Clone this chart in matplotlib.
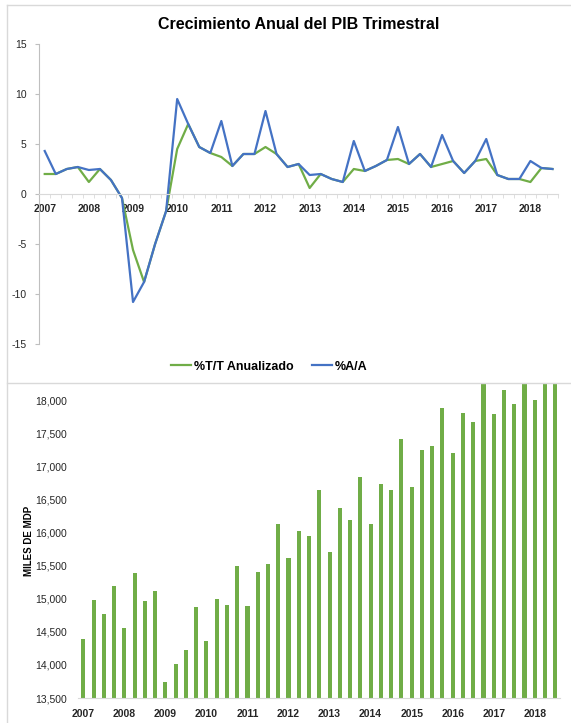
import matplotlib
matplotlib.use('Agg')
import matplotlib.pyplot as plt
from matplotlib.lines import Line2D
import numpy as np

plt.rcParams['font.family'] = ['Liberation Sans', 'DejaVu Sans']
plt.rcParams['axes.unicode_minus'] = False

# quarters 2007Q1 .. 2018Q3
years = ['2007', '2008', '2009', '2010', '2011', '2012',
         '2013', '2014', '2015', '2016', '2017', '2018']

# %A/A (blue) and %T/T anualizado (green)
aa = [4.3, 2.0, 2.5, 2.7, 2.4, 2.5, 1.4, -0.4,
      -10.8, -8.8, -5.0, -1.7, 9.5, 7.0, 4.7, 4.1,
      7.3, 2.8, 4.0, 4.0, 8.3, 4.0, 2.7, 3.0,
      1.9, 2.0, 1.5, 1.2, 5.3, 2.3, 2.8, 3.4,
      6.7, 3.0, 4.0, 2.7, 5.9, 3.3, 2.1, 3.3,
      5.5, 1.9, 1.5, 1.5, 3.3, 2.6, 2.5]
tt = [2.0, 2.0, 2.5, 2.7, 1.2, 2.5, 1.4, -0.4,
      -5.6, -8.8, -5.0, -1.7, 4.5, 7.0, 4.7, 4.1,
      3.7, 2.8, 4.0, 4.0, 4.7, 4.0, 2.7, 3.0,
      0.6, 2.0, 1.5, 1.2, 2.5, 2.3, 2.8, 3.4,
      3.5, 3.0, 4.0, 2.7, 3.0, 3.3, 2.1, 3.3,
      3.5, 1.9, 1.5, 1.5, 1.2, 2.6, 2.5]

# PIB trimestral, miles de millones de pesos
pib = [14390, 14980, 14775, 15195, 14555, 15385, 14970, 15115,
       13740, 14010, 14225, 14875, 14365, 14990, 14910, 15495,
       14895, 15405, 15520, 16130, 15610, 16025, 15945, 16635,
       15710, 16365, 16185, 16835, 16125, 16725, 16640, 17405,
       16685, 17240, 17305, 17880, 17200, 17810, 17670, 18300,
       17795, 18145, 17935, 18350, 18005, 18400, 18450]

green = '#70AD47'
blue = '#4472C4'
grid_gray = '#D9D9D9'

x = np.arange(len(aa))
fig = plt.figure(figsize=(5.71, 7.23), dpi=100)

# frame lines around the panels
fig.add_artist(Line2D([7/571, 7/571], [0, 1 - 5/723], color=grid_gray, lw=1))
fig.add_artist(Line2D([7/571, 1], [1 - 5/723, 1 - 5/723], color=grid_gray, lw=1))
fig.add_artist(Line2D([7/571, 1], [1 - 383/723, 1 - 383/723], color=grid_gray, lw=1))

# top chart
ax1 = fig.add_axes([39.2/571, (723-344)/723, 518.8/571, 300/723])
ax1.plot(x, tt, color=green, lw=1.6, label='%T/T Anualizado')
ax1.plot(x, aa, color=blue, lw=1.6, label='%A/A')
ax1.set_xlim(-0.5, len(aa) - 0.5)
ax1.set_ylim(-15, 15)
ax1.set_yticks([-15, -10, -5, 0, 5, 10, 15])
ax1.spines['top'].set_visible(False)
ax1.spines['right'].set_visible(False)
ax1.spines['left'].set_color('#BFBFBF')
ax1.spines['bottom'].set_position(('data', 0))
ax1.spines['bottom'].set_color(grid_gray)
ax1.set_xticks(np.arange(0, len(aa), 4))
ax1.set_xticklabels(years, fontsize=7.5, fontweight='bold', color='#262626')
ax1.set_xticks(np.arange(-0.5, len(aa), 1), minor=True)
ax1.tick_params(axis='x', which='major', length=0, pad=7)
ax1.tick_params(axis='x', which='minor', length=3, color=grid_gray)
ax1.tick_params(axis='y', length=3, color='#BFBFBF', labelsize=7.5,
                labelcolor='#262626', pad=6)
ax1.set_title('Crecimiento Anual del PIB Trimestral', fontsize=11.5,
              fontweight='bold', pad=11)
leg = ax1.legend(loc='upper center', bbox_to_anchor=(0.443, -0.018), ncol=2,
                 frameon=False, handlelength=1.6, handletextpad=0.2,
                 columnspacing=1.5, prop={'weight': 'bold', 'size': 9})

# bottom chart
ax2 = fig.add_axes([78.2/571, (723-698)/723, 482.2/571, 315/723])
ax2.bar(x, pib, width=0.4, color=green)
ax2.set_xlim(-0.5, len(pib) - 0.5)
ax2.set_ylim(13500, 18257)
ax2.set_yticks(np.arange(13500, 18001, 500))
ax2.set_yticklabels([f'{v:,}' for v in range(13500, 18001, 500)])
for s in ['top', 'right', 'left']:
    ax2.spines[s].set_visible(False)
ax2.spines['bottom'].set_color(grid_gray)
ax2.set_xticks(np.arange(0, len(pib), 4))
ax2.set_xticklabels(years, fontsize=7.5, fontweight='bold', color='#262626')
ax2.tick_params(axis='x', length=0, pad=8)
ax2.tick_params(axis='y', length=0, labelsize=7.5, labelcolor='#262626', pad=8)
ax2.set_ylabel('MILES DE MDP', fontsize=7, fontweight='bold')
ax2.yaxis.set_label_coords(-0.092, 0.5)

fig.savefig('out.png', dpi=100)
